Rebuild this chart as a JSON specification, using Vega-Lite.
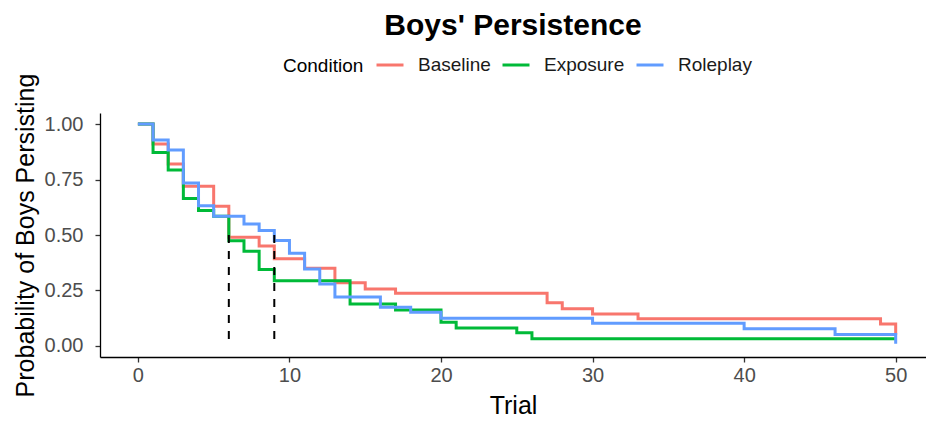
{
  "$schema": "https://vega.github.io/schema/vega-lite/v6.json",
  "width": 826,
  "height": 244,
  "autosize": {"type": "none"},
  "padding": {"left": 100, "top": 113, "right": 0, "bottom": 64},
  "background": "white",
  "config": {
    "view": {"stroke": null},
    "font": "Liberation Sans"
  },
  "title": {
    "text": "Boys' Persistence",
    "fontSize": 30,
    "fontWeight": "bold",
    "color": "#000000",
    "anchor": "middle",
    "offset": 9
  },
  "datasets": {
    "curves": [
      {"trial": 0, "surv": 1.0, "cond": "Baseline"},
      {"trial": 1, "surv": 0.91, "cond": "Baseline"},
      {"trial": 2, "surv": 0.82, "cond": "Baseline"},
      {"trial": 3, "surv": 0.72, "cond": "Baseline"},
      {"trial": 5, "surv": 0.63, "cond": "Baseline"},
      {"trial": 6, "surv": 0.49, "cond": "Baseline"},
      {"trial": 8, "surv": 0.45, "cond": "Baseline"},
      {"trial": 9, "surv": 0.393, "cond": "Baseline"},
      {"trial": 11, "surv": 0.35, "cond": "Baseline"},
      {"trial": 13, "surv": 0.285, "cond": "Baseline"},
      {"trial": 15, "surv": 0.257, "cond": "Baseline"},
      {"trial": 17, "surv": 0.237, "cond": "Baseline"},
      {"trial": 27, "surv": 0.195, "cond": "Baseline"},
      {"trial": 28, "surv": 0.167, "cond": "Baseline"},
      {"trial": 30, "surv": 0.144, "cond": "Baseline"},
      {"trial": 33, "surv": 0.122, "cond": "Baseline"},
      {"trial": 49, "surv": 0.099, "cond": "Baseline"},
      {"trial": 50, "surv": 0.05, "cond": "Baseline"},
      {"trial": 0, "surv": 1.0, "cond": "Exposure"},
      {"trial": 1, "surv": 0.872, "cond": "Exposure"},
      {"trial": 2, "surv": 0.793, "cond": "Exposure"},
      {"trial": 3, "surv": 0.665, "cond": "Exposure"},
      {"trial": 4, "surv": 0.61, "cond": "Exposure"},
      {"trial": 5, "surv": 0.584, "cond": "Exposure"},
      {"trial": 6, "surv": 0.474, "cond": "Exposure"},
      {"trial": 7, "surv": 0.427, "cond": "Exposure"},
      {"trial": 8, "surv": 0.344, "cond": "Exposure"},
      {"trial": 9, "surv": 0.294, "cond": "Exposure"},
      {"trial": 14, "surv": 0.189, "cond": "Exposure"},
      {"trial": 17, "surv": 0.162, "cond": "Exposure"},
      {"trial": 20, "surv": 0.107, "cond": "Exposure"},
      {"trial": 21, "surv": 0.081, "cond": "Exposure"},
      {"trial": 25, "surv": 0.059, "cond": "Exposure"},
      {"trial": 26, "surv": 0.032, "cond": "Exposure"},
      {"trial": 50, "surv": 0.032, "cond": "Exposure"},
      {"trial": 0, "surv": 1.0, "cond": "Roleplay"},
      {"trial": 1, "surv": 0.928, "cond": "Roleplay"},
      {"trial": 2, "surv": 0.883, "cond": "Roleplay"},
      {"trial": 3, "surv": 0.734, "cond": "Roleplay"},
      {"trial": 4, "surv": 0.632, "cond": "Roleplay"},
      {"trial": 5, "surv": 0.584, "cond": "Roleplay"},
      {"trial": 7, "surv": 0.55, "cond": "Roleplay"},
      {"trial": 8, "surv": 0.52, "cond": "Roleplay"},
      {"trial": 9, "surv": 0.475, "cond": "Roleplay"},
      {"trial": 10, "surv": 0.418, "cond": "Roleplay"},
      {"trial": 11, "surv": 0.347, "cond": "Roleplay"},
      {"trial": 12, "surv": 0.279, "cond": "Roleplay"},
      {"trial": 13, "surv": 0.22, "cond": "Roleplay"},
      {"trial": 16, "surv": 0.174, "cond": "Roleplay"},
      {"trial": 18, "surv": 0.152, "cond": "Roleplay"},
      {"trial": 20, "surv": 0.125, "cond": "Roleplay"},
      {"trial": 30, "surv": 0.102, "cond": "Roleplay"},
      {"trial": 40, "surv": 0.077, "cond": "Roleplay"},
      {"trial": 46, "surv": 0.051, "cond": "Roleplay"},
      {"trial": 50, "surv": 0.01, "cond": "Roleplay"}
    ],
    "medians": [
      {"trial": 6, "surv": 0.5, "surv2": 0},
      {"trial": 9, "surv": 0.5, "surv2": 0}
    ]
  },
  "encoding": {
    "x": {
      "field": "trial",
      "type": "quantitative",
      "scale": {"domain": [-2.5, 52], "nice": false, "zero": false},
      "axis": {
        "title": "Trial",
        "values": [0, 10, 20, 30, 40, 50],
        "grid": false,
        "domainColor": "#000000",
        "domainWidth": 1.3,
        "tickColor": "#333333",
        "tickSize": 5,
        "tickWidth": 1.3,
        "labelFontSize": 20,
        "labelColor": "#4D4D4D",
        "labelPadding": 3,
        "titleFontSize": 25,
        "titleFontWeight": "normal",
        "titleColor": "#000000",
        "titlePadding": 8
      }
    },
    "y": {
      "field": "surv",
      "type": "quantitative",
      "scale": {"domain": [-0.05, 1.05], "nice": false, "zero": false},
      "axis": {
        "title": "Probability of Boys Persisting",
        "values": [0, 0.25, 0.5, 0.75, 1],
        "format": ".2f",
        "grid": false,
        "domainColor": "#000000",
        "domainWidth": 1.3,
        "tickColor": "#333333",
        "tickSize": 5,
        "tickWidth": 1.3,
        "labelFontSize": 20,
        "labelColor": "#4D4D4D",
        "labelPadding": 12,
        "titleFontSize": 25,
        "titleFontWeight": "normal",
        "titleColor": "#000000",
        "titlePadding": 6
      }
    }
  },
  "layer": [
    {
      "data": {"name": "curves"},
      "mark": {"type": "line", "interpolate": "step-after", "strokeWidth": 3},
      "encoding": {
        "color": {
          "field": "cond",
          "type": "nominal",
          "scale": {"domain": ["Baseline", "Exposure", "Roleplay"], "range": ["#F8766D", "#00BA38", "#619CFF"]},
          "legend": {
            "title": "Condition",
            "orient": "none",
            "legendX": 183,
            "legendY": -63,
            "direction": "horizontal",
            "titleOrient": "left",
            "titleBaseline": "line-top",
            "titleLineHeight": 7,
            "titleFontSize": 19,
            "titleFontWeight": "normal",
            "titleColor": "#000000",
            "titlePadding": 11,
            "labelFontSize": 19,
            "labelColor": "#1A1A1A",
            "labelOffset": 13,
            "columnPadding": 5,
            "symbolType": "stroke",
            "symbolSize": 729,
            "symbolStrokeWidth": 3
          }
        }
      }
    },
    {
      "data": {"name": "medians"},
      "mark": {"type": "rule", "strokeDash": [8, 8], "strokeWidth": 2, "color": "#000000"},
      "encoding": {
        "y2": {"field": "surv2"}
      }
    }
  ]
}
